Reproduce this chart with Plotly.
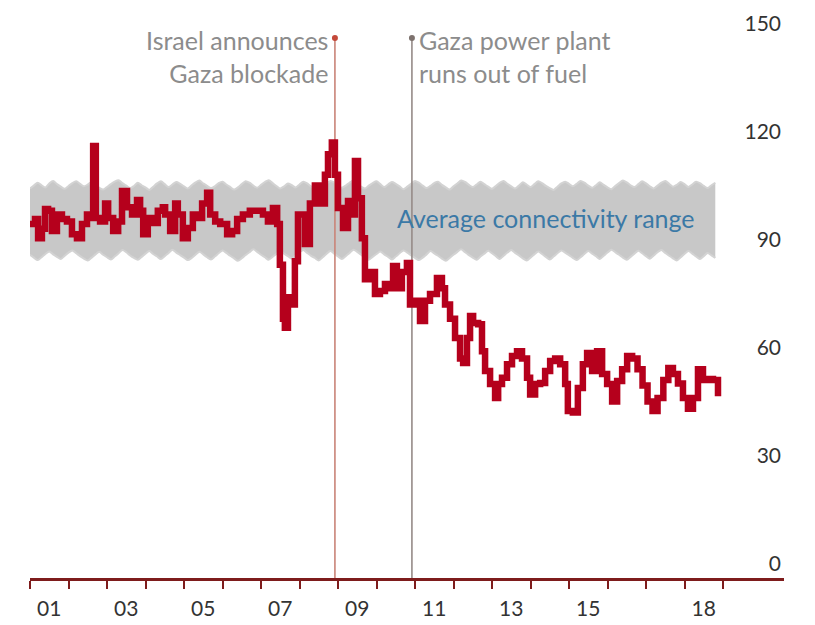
import numpy as np
import plotly.graph_objects as go

# Gaza internet connectivity index (traced), decimal years
conn_years = [2001.00, 2001.13, 2001.21, 2001.31, 2001.39, 2001.47, 2001.57, 2001.70, 2001.83, 2001.96,
              2002.09, 2002.22, 2002.35, 2002.48, 2002.56, 2002.64, 2002.71, 2002.82, 2002.95, 2003.03,
              2003.16, 2003.29, 2003.39, 2003.52, 2003.65, 2003.78, 2003.86, 2003.94, 2004.06, 2004.19,
              2004.32, 2004.45, 2004.51, 2004.64, 2004.77, 2004.84, 2004.97, 2005.10, 2005.23, 2005.36,
              2005.47, 2005.60, 2005.68, 2005.81, 2005.94, 2006.12, 2006.25, 2006.38, 2006.53, 2006.71,
              2006.90, 2007.05, 2007.18, 2007.31, 2007.42, 2007.49, 2007.57, 2007.62, 2007.70, 2007.81,
              2007.88, 2007.96, 2008.14, 2008.27, 2008.40, 2008.53, 2008.66, 2008.74, 2008.84, 2008.92,
              2009.00, 2009.13, 2009.26, 2009.36, 2009.44, 2009.52, 2009.62, 2009.70, 2009.83, 2009.96,
              2010.09, 2010.22, 2010.35, 2010.43, 2010.53, 2010.66, 2010.79, 2010.87, 2011.00, 2011.13,
              2011.26, 2011.39, 2011.57, 2011.70, 2011.78, 2011.91, 2012.04, 2012.17, 2012.25, 2012.35,
              2012.43, 2012.51, 2012.64, 2012.74, 2012.82, 2012.95, 2013.08, 2013.16, 2013.26, 2013.39,
              2013.52, 2013.65, 2013.78, 2013.91, 2013.99, 2014.12, 2014.25, 2014.38, 2014.51, 2014.64,
              2014.77, 2014.90, 2014.97, 2015.10, 2015.23, 2015.36, 2015.47, 2015.60, 2015.73, 2015.86,
              2015.99, 2016.12, 2016.25, 2016.38, 2016.51, 2016.64, 2016.78, 2016.91, 2017.04, 2017.17,
              2017.30, 2017.45, 2017.58, 2017.70, 2017.83, 2017.96, 2018.09, 2018.22, 2018.35, 2018.48,
              2018.61, 2018.74, 2018.87]
conn_values = [98.3, 99.7, 94.4, 97.0, 102.5, 102.0, 96.4, 101.0, 99.7, 99.0,
               95.5, 94.4, 98.3, 101.0, 100.0, 120.0, 100.0, 99.0, 104.0, 100.0,
               96.4, 99.0, 107.5, 103.0, 101.0, 105.0, 102.0, 95.5, 100.0, 98.6,
               102.0, 103.0, 101.0, 96.4, 104.0, 101.0, 94.4, 97.2, 101.0, 100.0,
               104.0, 107.0, 101.0, 99.0, 98.3, 95.5, 96.4, 99.7, 101.0, 102.0,
               102.0, 101.0, 99.0, 102.8, 98.3, 87.0, 72.0, 69.5, 78.0, 76.0,
               88.0, 101.0, 92.8, 104.0, 109.0, 104.0, 112.0, 117.7, 121.0, 112.0,
               102.8, 97.2, 104.7, 101.0, 115.8, 105.5, 94.4, 83.0, 85.0, 78.9,
               79.7, 81.7, 80.5, 86.7, 80.5, 85.0, 87.5, 76.0, 77.0, 71.4,
               77.0, 78.9, 83.3, 80.5, 76.0, 72.0, 66.7, 61.0, 59.7, 66.7,
               72.8, 70.8, 70.5, 63.0, 57.5, 53.9, 50.0, 53.9, 55.6, 59.4,
               61.7, 63.0, 61.0, 55.6, 51.0, 53.9, 54.2, 57.5, 60.3, 61.0,
               59.4, 53.9, 46.4, 46.0, 52.8, 59.4, 62.5, 57.5, 63.0, 56.7,
               53.9, 49.0, 54.7, 58.0, 61.7, 61.0, 58.0, 53.5, 49.0, 46.4,
               50.0, 55.0, 58.3, 56.7, 54.0, 50.0, 47.0, 50.0, 58.0, 55.0,
               55.3, 55.0, 50.5]

# Average connectivity range (band), sampled every 0.1 years from 2001
band_start = 2001.0
band_step = 0.1
band_upper = [108.2, 109.0, 109.8, 109.1, 108.5, 109.6, 110.3, 109.4, 108.7, 108.1,
              108.9, 109.7, 110.2, 109.5, 108.8, 109.3, 110.0, 109.2, 108.4, 107.9,
              108.6, 109.4, 110.1, 110.5, 109.7, 109.0, 108.3, 108.9, 109.8, 109.1,
              108.5, 107.8, 108.7, 109.6, 110.2, 109.4, 108.6, 109.3, 110.0, 109.5,
              108.8, 108.2, 109.1, 109.9, 110.4, 109.6, 108.9, 108.3, 108.8, 109.7,
              110.1, 109.3, 108.6, 107.9, 108.5, 109.4, 110.2, 109.8, 109.0, 108.4,
              109.2, 110.0, 110.5, 109.7, 108.9, 108.2, 108.8, 109.6, 109.1, 108.5,
              109.3, 110.1, 109.6, 108.8, 108.1, 107.7, 108.6, 109.5, 110.3, 109.9,
              109.1, 108.4, 109.0, 109.8, 110.4, 109.6, 108.7, 108.2, 109.0, 109.7,
              110.2, 109.4, 108.6, 109.3, 110.0, 109.5, 108.8, 108.0, 108.7, 109.5,
              110.3, 109.8, 109.0, 108.3, 108.9, 109.7, 110.1, 109.2, 108.5, 107.9,
              108.8, 109.6, 110.4, 110.0, 109.2, 108.6, 109.3, 110.1, 109.4, 108.7,
              108.1, 108.9, 109.8, 110.3, 109.5, 108.8, 108.2, 109.0, 109.9, 109.3,
              108.6, 109.4, 110.2, 109.7, 108.9, 108.3, 107.8, 108.7, 109.6, 110.1,
              109.5, 108.8, 109.5, 110.3, 109.8, 109.0, 108.4, 109.1, 109.9, 109.2,
              108.5, 108.0, 108.9, 109.7, 110.4, 109.9, 109.1, 108.6, 109.4, 110.2,
              109.6, 108.8, 108.2, 109.0, 109.8, 110.3, 109.5, 108.7, 109.2, 110.0,
              109.4, 108.6, 109.3, 110.1, 109.7, 108.9, 108.3, 109.1, 109.8]
band_lower = [89.8, 89.0, 88.3, 89.1, 90.0, 90.7, 89.9, 89.2, 88.6, 89.5,
              90.4, 91.0, 90.2, 89.4, 88.7, 88.2, 89.0, 89.9, 90.6, 89.8,
              89.1, 88.5, 89.3, 90.2, 91.1, 90.5, 89.6, 88.9, 88.4, 89.2,
              90.1, 90.8, 90.0, 89.3, 88.6, 89.4, 90.3, 91.2, 90.4, 89.7,
              89.0, 88.3, 88.9, 89.8, 90.6, 89.9, 89.1, 88.5, 89.3, 90.2,
              91.0, 90.3, 89.5, 88.8, 88.1, 88.8, 89.7, 90.5, 91.3, 90.6,
              89.8, 89.1, 88.4, 89.2, 90.0, 90.9, 90.1, 89.4, 88.7, 89.6,
              90.5, 91.1, 90.3, 89.5, 88.9, 88.2, 89.1, 90.0, 90.8, 90.1,
              89.3, 88.6, 89.4, 90.3, 91.2, 90.6, 89.8, 89.0, 88.4, 89.2,
              90.0, 90.7, 89.9, 89.2, 88.5, 89.3, 90.2, 91.0, 90.4, 89.6,
              88.9, 88.3, 89.0, 89.9, 90.8, 90.2, 89.5, 88.7, 88.1, 88.9,
              89.8, 90.6, 91.3, 90.5, 89.7, 89.0, 88.4, 89.3, 90.1, 90.9,
              90.2, 89.4, 88.6, 89.5, 90.4, 91.1, 90.3, 89.6, 88.8, 88.2,
              89.0, 89.9, 90.7, 90.0, 89.2, 88.5, 89.3, 90.2, 91.0, 90.4,
              89.7, 88.9, 88.3, 89.1, 90.0, 90.8, 90.1, 89.4, 88.6, 89.5,
              90.4, 91.2, 90.5, 89.8, 89.0, 88.4, 89.2, 90.1, 90.9, 90.2,
              89.4, 88.7, 89.6, 90.5, 91.1, 90.3, 89.5, 88.8, 88.2, 89.1,
              90.0, 90.8, 90.1, 89.3, 88.6, 89.4, 90.3, 89.6, 88.9]
band_years = [band_start + band_step * i for i in range(len(band_upper))]

# Events
event_years = [2008.92, 2010.92]
event_labels = ["Israel announces<br>Gaza blockade", "Gaza power plant<br>runs out of fuel"]
event_line_colors = ["#c98478", "#958b87"]
event_dot_colors = ["#c4493a", "#7d726e"]

# Axis ticks
year_ticks = list(range(2001, 2020))
label_vals = [2001.5, 2003.5, 2005.5, 2007.5, 2009.5, 2011.5, 2013.5, 2015.5, 2018.5]
label_text = ["01", "03", "05", "07", "09", "11", "13", "15", "18"]
y_ticks = [0, 30, 60, 90, 120, 150]

FONT = "Lato"
AXIS_RED = "#7e1c1c"

# page body has an 8px margin: figure is 807x617 so it fills the 815x625 window
FIG_W, FIG_H = 807, 617
M_L, M_R, M_T, M_B = 22, 31, 30, 47
plot_w = FIG_W - M_L - M_R

fig = go.Figure()

fig.add_trace(go.Scatter(x=band_years, y=band_lower, mode="lines",
                         line=dict(width=2, color="#d3d3d3", shape="spline", smoothing=0.8),
                         hoverinfo="skip", showlegend=False))
fig.add_trace(go.Scatter(x=band_years, y=band_upper, mode="lines", fill="tonexty",
                         fillcolor="#c8c8c8",
                         line=dict(width=2, color="#d3d3d3", shape="spline", smoothing=0.8),
                         hoverinfo="skip", showlegend=False))

for yr, lc in zip(event_years, event_line_colors):
    fig.add_trace(go.Scatter(x=[yr, yr], y=[0, 150], mode="lines", cliponaxis=False,
                             line=dict(color=lc, width=1.6), hoverinfo="skip", showlegend=False))

fig.add_trace(go.Scatter(x=conn_years, y=conn_values, mode="lines", line_shape="hv",
                         line=dict(color="#b5001c", width=6.5), showlegend=False))

for yr, dc in zip(event_years, event_dot_colors):
    fig.add_trace(go.Scatter(x=[yr], y=[150], mode="markers", cliponaxis=False,
                             marker=dict(color=dc, size=6), hoverinfo="skip", showlegend=False))

fig.add_annotation(x=event_years[0], y=150, xref="x", yref="y", text=event_labels[0],
                   showarrow=False, xanchor="right", yanchor="top", align="right",
                   xshift=-5, yshift=15, font=dict(family=FONT, size=25, color="#8c8c8c"))
fig.add_annotation(x=event_years[1], y=150, xref="x", yref="y", text=event_labels[1],
                   showarrow=False, xanchor="left", yanchor="top", align="left",
                   xshift=5, yshift=15, font=dict(family=FONT, size=25, color="#8c8c8c"))
fig.add_annotation(x=2010.48, y=100, xref="x", yref="y", text="Average connectivity range",
                   showarrow=False, xanchor="left", yanchor="middle",
                   font=dict(family=FONT, size=25, color="#3b79a6"))

fig.update_layout(
    template="none",
    width=FIG_W, height=FIG_H,
    margin=dict(l=M_L, r=M_R, t=M_T, b=M_B, autoexpand=False),
    paper_bgcolor="white", plot_bgcolor="white",
    font=dict(family=FONT),
    xaxis=dict(range=[2001, 2001 + plot_w / 38.5], showgrid=False, zeroline=False, automargin=False,
               showline=True, linecolor=AXIS_RED, linewidth=2.5,
               tickmode="array", tickvals=label_vals, ticktext=label_text, ticks="",
               ticklabelstandoff=10,
               tickfont=dict(family=FONT, size=21, color="#333333"),
               minor=dict(tickmode="array", tickvals=year_ticks, ticks="outside",
                          ticklen=8, tickwidth=2, tickcolor=AXIS_RED, showgrid=False)),
    yaxis=dict(range=[0, 150], side="right", showgrid=False, zeroline=False, showline=False,
               automargin=False,
               tickmode="array", tickvals=y_ticks, ticks="", ticklabelposition="inside top",
               ticklabeloverflow="allow",
               tickfont=dict(family=FONT, size=21, color="#333333")),
)

fig.write_html("out.html")
